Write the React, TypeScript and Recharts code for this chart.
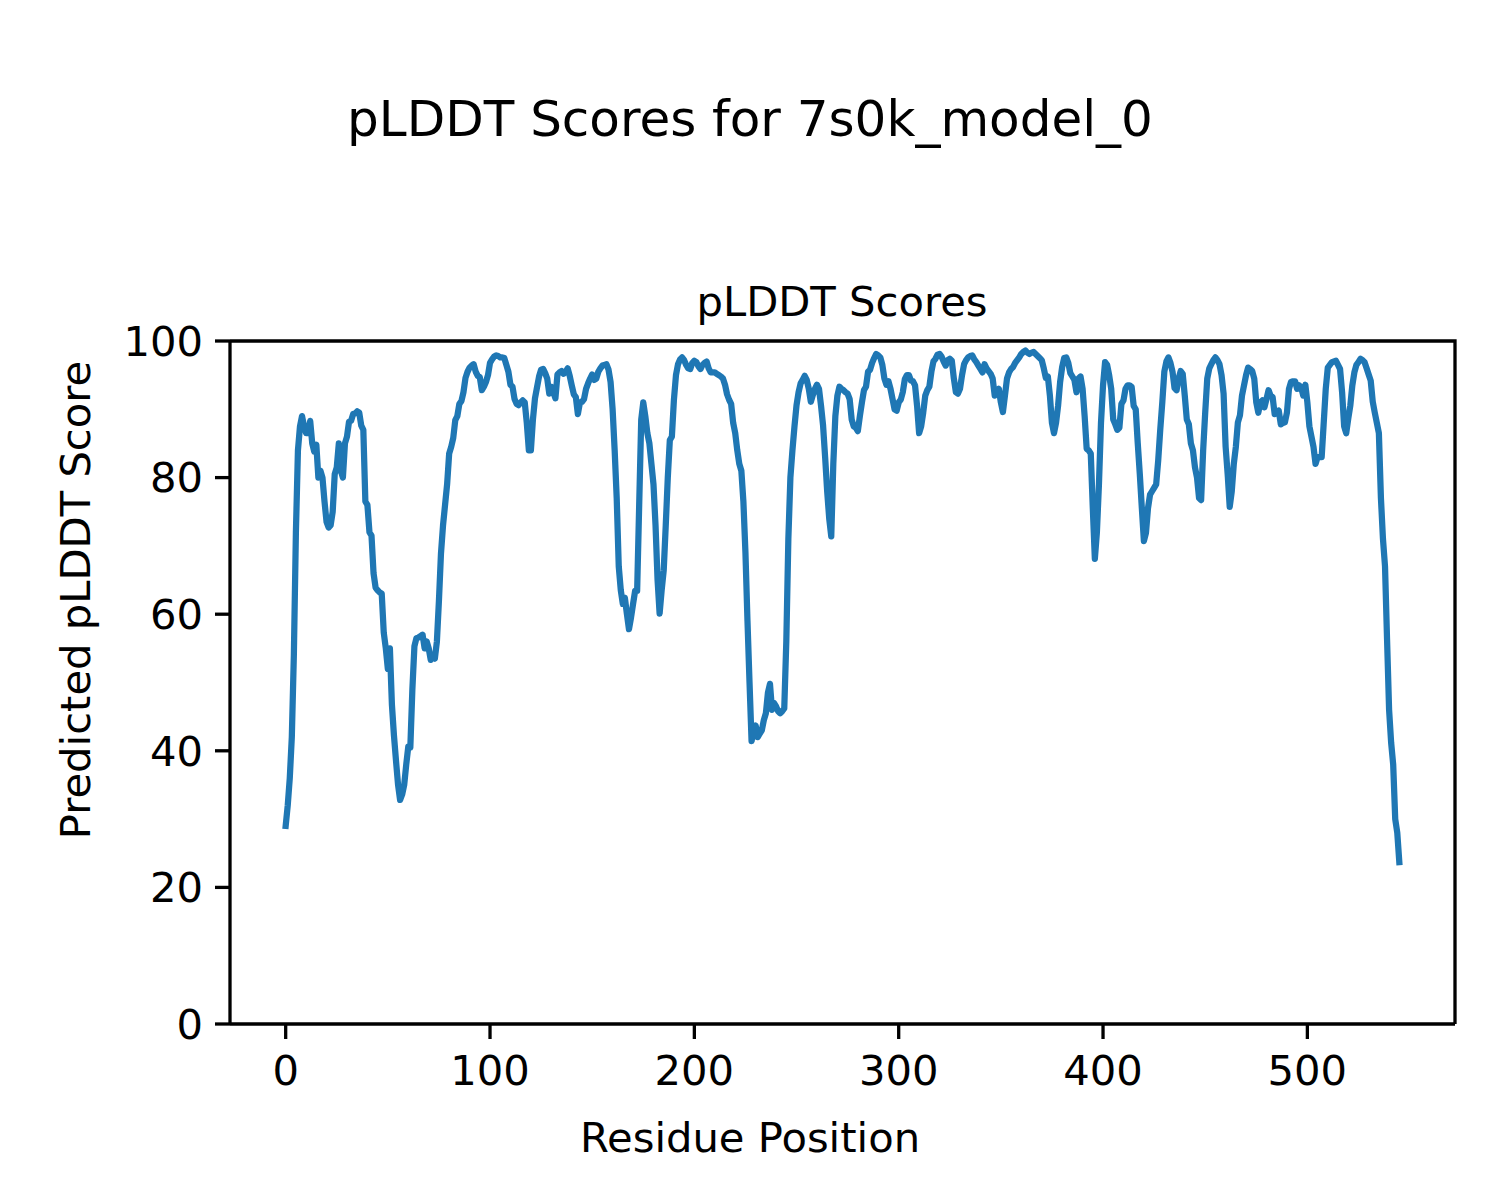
import { LineChart, Line, XAxis, YAxis } from "recharts";

// pLDDT per residue (residues 0..545)
const SCORES: number[] = [
  29, 32, 36, 42, 54, 72, 84, 87.5, 89, 87.5,
  86.5, 86.5, 88.3, 85, 83.8, 84.8, 80, 81, 80, 76.5,
  73.5, 72.7, 73, 75, 80.5, 81.5, 85, 81, 80, 85,
  86, 88.2, 88.3, 89.3, 89.4, 89.7, 89.5, 87.6, 87, 76.5,
  76, 72, 71.5, 66, 63.9, 63.5, 63.2, 63, 57.3, 55,
  52, 55, 46.7, 42.2, 38.5, 35, 32.8, 33.6, 35, 38,
  40.6, 40.5, 49, 55.3, 56.5, 56.6, 56.8, 57, 55, 56,
  55, 53.3, 53.8, 53.5, 56, 62, 68.9, 73, 76, 79,
  83.5, 84.5, 85.8, 88.4, 89, 90.8, 91.2, 92.5, 94.6, 95.5,
  96.1, 96.4, 96.6, 95.5, 94.9, 94.7, 92.8, 93.3, 94, 95,
  96.8, 97.3, 97.7, 97.9, 97.8, 97.6, 97.6, 97.5, 96.5, 95.5,
  93.6, 93.3, 91.5, 90.8, 90.6, 91, 91.3, 91, 88, 84,
  84, 88.5, 91.6, 93.2, 94.8, 95.8, 95.9, 95.3, 94.5, 92.3,
  93.3, 92.5, 91.6, 95.1, 95.4, 95.6, 95.2, 95.5, 96, 94.9,
  93.5, 92.2, 91.8, 89.3, 91, 91.1, 91.5, 93, 93.8, 94.5,
  95.1, 94.3, 94.5, 95.5, 96, 96.4, 96.5, 96.6, 95.8, 94,
  90, 84, 77, 67, 63.5, 61.5, 62.4, 60, 57.8, 59.5,
  61.5, 63.4, 63.4, 76, 88.5, 91, 89, 86.5, 85, 82,
  79, 73, 65, 60.1, 63.5, 66.4, 73, 80, 85.5, 86,
  91.4, 95, 96.6, 97.3, 97.6, 97.2, 96.5, 96, 95.9, 96.8,
  97.1, 96.9, 96.3, 95.9, 96.5, 96.8, 97, 96, 95.4, 95.4,
  95.4, 95.2, 95, 94.8, 94.5, 93.6, 92.2, 91.4, 90.8, 88,
  86.5, 84, 82, 81, 76.5, 69, 59, 50, 41.4, 43,
  43.7, 42, 42.5, 43, 44.5, 45.5, 48.5, 49.8, 46, 47,
  46.5, 45.8, 45.5, 45.8, 46.2, 56, 71, 80, 84, 87.5,
  90.6, 92.5, 93.8, 94.3, 94.9, 94.3, 93, 91.1, 92.1, 93,
  93.6, 93, 90.5, 87.6, 83, 78, 74, 71.4, 82, 89,
  92, 93.3, 93, 92.8, 92.5, 92.3, 91.5, 88.5, 87.5, 87.3,
  86.8, 89, 91, 92.8, 93.3, 95.5, 95.8, 96.8, 97.5, 98.1,
  97.9, 97.6, 96.5, 94.5, 93.6, 94.1, 93, 91.5, 90, 89.8,
  91, 91.4, 92.5, 94.4, 95, 95, 94.2, 94.1, 93.5, 90.5,
  86.5, 87.5, 89.5, 92, 92.8, 93.3, 95.5, 97, 97.4, 98,
  98.1, 97.7, 97, 96.4, 97.2, 97.4, 97.1, 94.5, 92.5, 92.3,
  93, 95, 96.6, 97.2, 97.6, 97.8, 97.9, 97.3, 96.9, 96.4,
  95.9, 95.4, 96.6, 96, 95.6, 95.2, 94.5, 92, 92.5, 93,
  91, 89.6, 92, 94.5, 95.4, 95.9, 96.2, 96.8, 97.2, 97.6,
  98.1, 98.4, 98.6, 98.3, 98.1, 98.3, 98.4, 98.1, 97.8, 97.5,
  97.2, 96, 94.6, 94.8, 92, 88, 86.5, 88, 90.5, 94,
  96.2, 97.5, 97.6, 96.8, 95.3, 94.8, 94.3, 92.5, 94.5, 94.8,
  93, 89, 84.2, 84, 83.5, 75.5, 68.1, 72, 79, 88,
  93.5, 96.9, 96.5, 95, 93, 88.5, 87.8, 87, 87.3, 90.8,
  91.3, 93, 93.5, 93.5, 93.3, 90.5, 90, 85, 80.5, 75.5,
  70.7, 71.9, 75.5, 77.5, 78, 78.5, 79, 82.5, 87, 91,
  95.5, 97, 97.6, 96.8, 95.5, 93.1, 92.8, 94.5, 95.6, 95.2,
  92, 88.5, 87.8, 85, 84, 81.5, 80, 77, 76.7, 84,
  89.5, 94.5, 96, 96.6, 97.2, 97.6, 97.2, 96.6, 95, 92.3,
  84.5, 80.5, 75.7, 78, 82, 84.5, 88.1, 89.1, 92, 93.5,
  95, 96.1, 95.9, 95.6, 94.5, 91, 89.5, 91, 91.3, 90.3,
  91.5, 92.8, 92, 91.8, 89.3, 89.5, 89.8, 87.8, 88, 88.1,
  89.5, 93, 94, 94.1, 94.1, 93, 93.5, 93.2, 92, 93.6,
  91, 87.5, 86, 84.5, 82, 83, 83, 83, 88, 93,
  96.1, 96.5, 96.9, 97, 97.1, 96.5, 95.9, 92.5, 87.5, 86.5,
  88.6, 90.5, 93.5, 95.4, 96.5, 96.9, 97.4, 97.2, 96.9, 96,
  95.1, 94.2, 91.1, 89.5, 88, 86.5, 77, 71, 67, 56.3,
  46, 41.2, 38, 30, 28, 23.7,
];

const X_TICKS = [0, 100, 200, 300, 400, 500];
const Y_TICKS = [0, 20, 40, 60, 80, 100];
const X_DOMAIN: [number, number] = [-27.25, 572.25];

const data = SCORES.map((score, pos) => ({ pos, score }));

const FONT = "'DejaVu Sans', sans-serif";
const tickStyle = { fontSize: 41.7, fill: "#000", fontFamily: FONT };
const spine = { stroke: "#000", strokeWidth: 3.3 };

export default function App() {
  return (
    <div style={{ position: "absolute", left: 0, top: 0, width: 1500, height: 1200, background: "#fff" }}>
      <LineChart
        width={1500}
        height={1200}
        data={data}
        margin={{ top: 341, right: 45, bottom: 0, left: 0 }}
      >
        <XAxis
          dataKey="pos"
          type="number"
          domain={X_DOMAIN}
          ticks={X_TICKS}
          allowDataOverflow
          height={176}
          tick={tickStyle}
          tickSize={15}
          tickMargin={16}
          tickLine={spine}
          axisLine={spine}
        />
        <YAxis
          type="number"
          domain={[0, 100]}
          ticks={Y_TICKS}
          width={230}
          tick={tickStyle}
          tickSize={15}
          tickMargin={12}
          tickLine={spine}
          axisLine={spine}
        />
        <Line
          type="linear"
          dataKey="score"
          stroke="#1f77b4"
          strokeWidth={6.25}
          strokeLinejoin="round"
          strokeLinecap="square"
          dot={false}
          activeDot={false}
          isAnimationActive={false}
        />
      </LineChart>
      <svg
        width={1500}
        height={1200}
        style={{ position: "absolute", left: 0, top: 0, pointerEvents: "none" }}
        fontFamily={FONT}
      >
        {/* top and right spines of the axes frame */}
        <path d="M230 341 H1455 V1024" fill="none" stroke="#000" strokeWidth={3.3} />
        <text x={750} y={136} fontSize={50} textAnchor="middle" fill="#000">
          pLDDT Scores for 7s0k_model_0
        </text>
        <text x={842} y={316} fontSize={41.7} textAnchor="middle" fill="#000">
          pLDDT Scores
        </text>
        <text x={750} y={1152} fontSize={41.7} textAnchor="middle" fill="#000">
          Residue Position
        </text>
        <text
          x={0}
          y={0}
          fontSize={41.7}
          textAnchor="middle"
          fill="#000"
          transform="translate(90 600) rotate(-90)"
        >
          Predicted pLDDT Score
        </text>
      </svg>
    </div>
  );
}
